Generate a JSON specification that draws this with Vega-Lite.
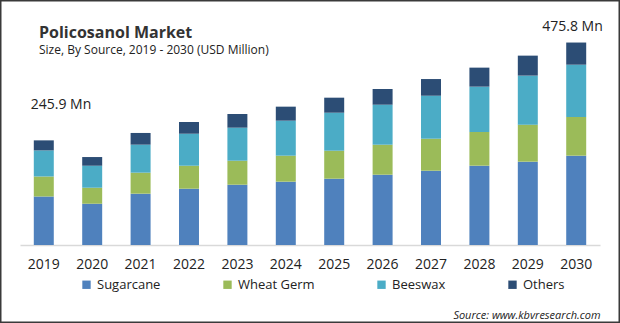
{
  "$schema": "https://vega.github.io/schema/vega-lite/v6.json",
  "width": 620,
  "height": 323,
  "autosize": "none",
  "padding": 0,
  "background": "white",
  "config": {
    "view": {"stroke": "#3a3a3a", "strokeWidth": 3},
    "font": "Open Sans"
  },
  "title": {
    "text": "Policosanol Market",
    "subtitle": "Size, By Source, 2019 - 2030 (USD Million)",
    "anchor": "start",
    "frame": "group",
    "orient": "top",
    "offset": -56,
    "dx": 39,
    "font": "Open Sans",
    "fontSize": 16,
    "fontWeight": "bold",
    "color": "#333333",
    "subtitleFont": "Open Sans",
    "subtitleFontSize": 12,
    "subtitleColor": "#222222",
    "subtitlePadding": 4
  },
  "datasets": {
    "market": [
      {"year": "2019", "source": "Sugarcane", "value": 114.0},
      {"year": "2019", "source": "Wheat Germ", "value": 47.0},
      {"year": "2019", "source": "Beeswax", "value": 61.3},
      {"year": "2019", "source": "Others", "value": 23.6},
      {"year": "2020", "source": "Sugarcane", "value": 97.0},
      {"year": "2020", "source": "Wheat Germ", "value": 37.6},
      {"year": "2020", "source": "Beeswax", "value": 51.7},
      {"year": "2020", "source": "Others", "value": 20.4},
      {"year": "2021", "source": "Sugarcane", "value": 120.6},
      {"year": "2021", "source": "Wheat Germ", "value": 49.4},
      {"year": "2021", "source": "Beeswax", "value": 65.8},
      {"year": "2021", "source": "Others", "value": 27.5},
      {"year": "2022", "source": "Sugarcane", "value": 132.3},
      {"year": "2022", "source": "Wheat Germ", "value": 54.0},
      {"year": "2022", "source": "Beeswax", "value": 75.2},
      {"year": "2022", "source": "Others", "value": 27.5},
      {"year": "2023", "source": "Sugarcane", "value": 141.7},
      {"year": "2023", "source": "Wheat Germ", "value": 56.4},
      {"year": "2023", "source": "Beeswax", "value": 77.6},
      {"year": "2023", "source": "Others", "value": 32.2},
      {"year": "2024", "source": "Sugarcane", "value": 148.8},
      {"year": "2024", "source": "Wheat Germ", "value": 61.1},
      {"year": "2024", "source": "Beeswax", "value": 82.3},
      {"year": "2024", "source": "Others", "value": 32.9},
      {"year": "2025", "source": "Sugarcane", "value": 155.8},
      {"year": "2025", "source": "Wheat Germ", "value": 65.8},
      {"year": "2025", "source": "Beeswax", "value": 89.3},
      {"year": "2025", "source": "Others", "value": 35.3},
      {"year": "2026", "source": "Sugarcane", "value": 165.2},
      {"year": "2026", "source": "Wheat Germ", "value": 70.5},
      {"year": "2026", "source": "Beeswax", "value": 94.0},
      {"year": "2026", "source": "Others", "value": 36.9},
      {"year": "2027", "source": "Sugarcane", "value": 174.6},
      {"year": "2027", "source": "Wheat Germ", "value": 75.2},
      {"year": "2027", "source": "Beeswax", "value": 101.0},
      {"year": "2027", "source": "Others", "value": 39.2},
      {"year": "2028", "source": "Sugarcane", "value": 186.4},
      {"year": "2028", "source": "Wheat Germ", "value": 79.2},
      {"year": "2028", "source": "Beeswax", "value": 106.5},
      {"year": "2028", "source": "Others", "value": 44.7},
      {"year": "2029", "source": "Sugarcane", "value": 195.8},
      {"year": "2029", "source": "Wheat Germ", "value": 87.0},
      {"year": "2029", "source": "Beeswax", "value": 115.2},
      {"year": "2029", "source": "Others", "value": 47.0},
      {"year": "2030", "source": "Sugarcane", "value": 209.9},
      {"year": "2030", "source": "Wheat Germ", "value": 90.9},
      {"year": "2030", "source": "Beeswax", "value": 122.9},
      {"year": "2030", "source": "Others", "value": 52.1}
    ],
    "labels": [
      {"year": "2019", "total": 245.9, "label": "245.9 Mn"},
      {"year": "2030", "total": 475.8, "label": "475.8 Mn"}
    ]
  },
  "encoding": {
    "x": {
      "field": "year",
      "type": "nominal",
      "scale": {"range": [20, 600], "paddingInner": 0.587, "paddingOuter": 0.285},
      "axis": {
        "orient": "bottom",
        "offset": -78,
        "title": "Source: www.kbvresearch.com",
        "titleFont": "Open Sans",
        "titleFontStyle": "italic",
        "titleFontWeight": "normal",
        "titleFontSize": 11,
        "titleColor": "#222222",
        "titleAnchor": "end",
        "titleAlign": "right",
        "titlePadding": 38,
        "labelAngle": 0,
        "labelFont": "Open Sans",
        "labelFontSize": 14,
        "labelColor": "#222222",
        "labelPadding": 12,
        "ticks": false,
        "grid": false,
        "domainColor": "#d9d9d9",
        "domainWidth": 1.5
      }
    }
  },
  "layer": [
    {
      "data": {"name": "market"},
      "transform": [
        {"calculate": "indexof(['Sugarcane', 'Wheat Germ', 'Beeswax', 'Others'], datum.source)", "as": "stackOrder"}
      ],
      "mark": {"type": "bar"},
      "encoding": {
        "y": {
          "field": "value",
          "type": "quantitative",
          "stack": "zero",
          "scale": {"domain": [-183.3, 575.75], "nice": false, "zero": false},
          "axis": null
        },
        "color": {
          "field": "source",
          "type": "nominal",
          "sort": ["Sugarcane", "Wheat Germ", "Beeswax", "Others"],
          "scale": {
            "domain": ["Sugarcane", "Wheat Germ", "Beeswax", "Others"],
            "range": ["#4f81bd", "#9bbb59", "#4bacc6", "#2c4d75"]
          },
          "legend": {
            "orient": "none",
            "legendX": 80,
            "legendY": 278,
            "direction": "horizontal",
            "columns": 4,
            "title": null,
            "symbolType": "square",
            "symbolSize": 70,
            "symbolStrokeWidth": 0,
            "labelFont": "Open Sans",
            "labelFontSize": 13,
            "labelColor": "#222222",
            "labelOffset": 4,
            "columnPadding": 60
          }
        },
        "order": {"field": "stackOrder", "type": "quantitative", "sort": "ascending"}
      }
    },
    {
      "data": {"name": "labels"},
      "transform": [{"filter": "datum.year == '2019'"}],
      "mark": {"type": "text", "align": "left", "baseline": "bottom", "dx": -13, "dy": -28, "font": "Open Sans", "fontSize": 14, "color": "#222222"},
      "encoding": {
        "y": {"field": "total", "type": "quantitative"},
        "text": {"field": "label"}
      }
    },
    {
      "data": {"name": "labels"},
      "transform": [{"filter": "datum.year == '2030'"}],
      "mark": {"type": "text", "align": "left", "baseline": "bottom", "dx": -34, "dy": -9, "font": "Open Sans", "fontSize": 14, "color": "#222222"},
      "encoding": {
        "y": {"field": "total", "type": "quantitative"},
        "text": {"field": "label"}
      }
    }
  ],
  "resolve": {"scale": {"y": "shared"}}
}
